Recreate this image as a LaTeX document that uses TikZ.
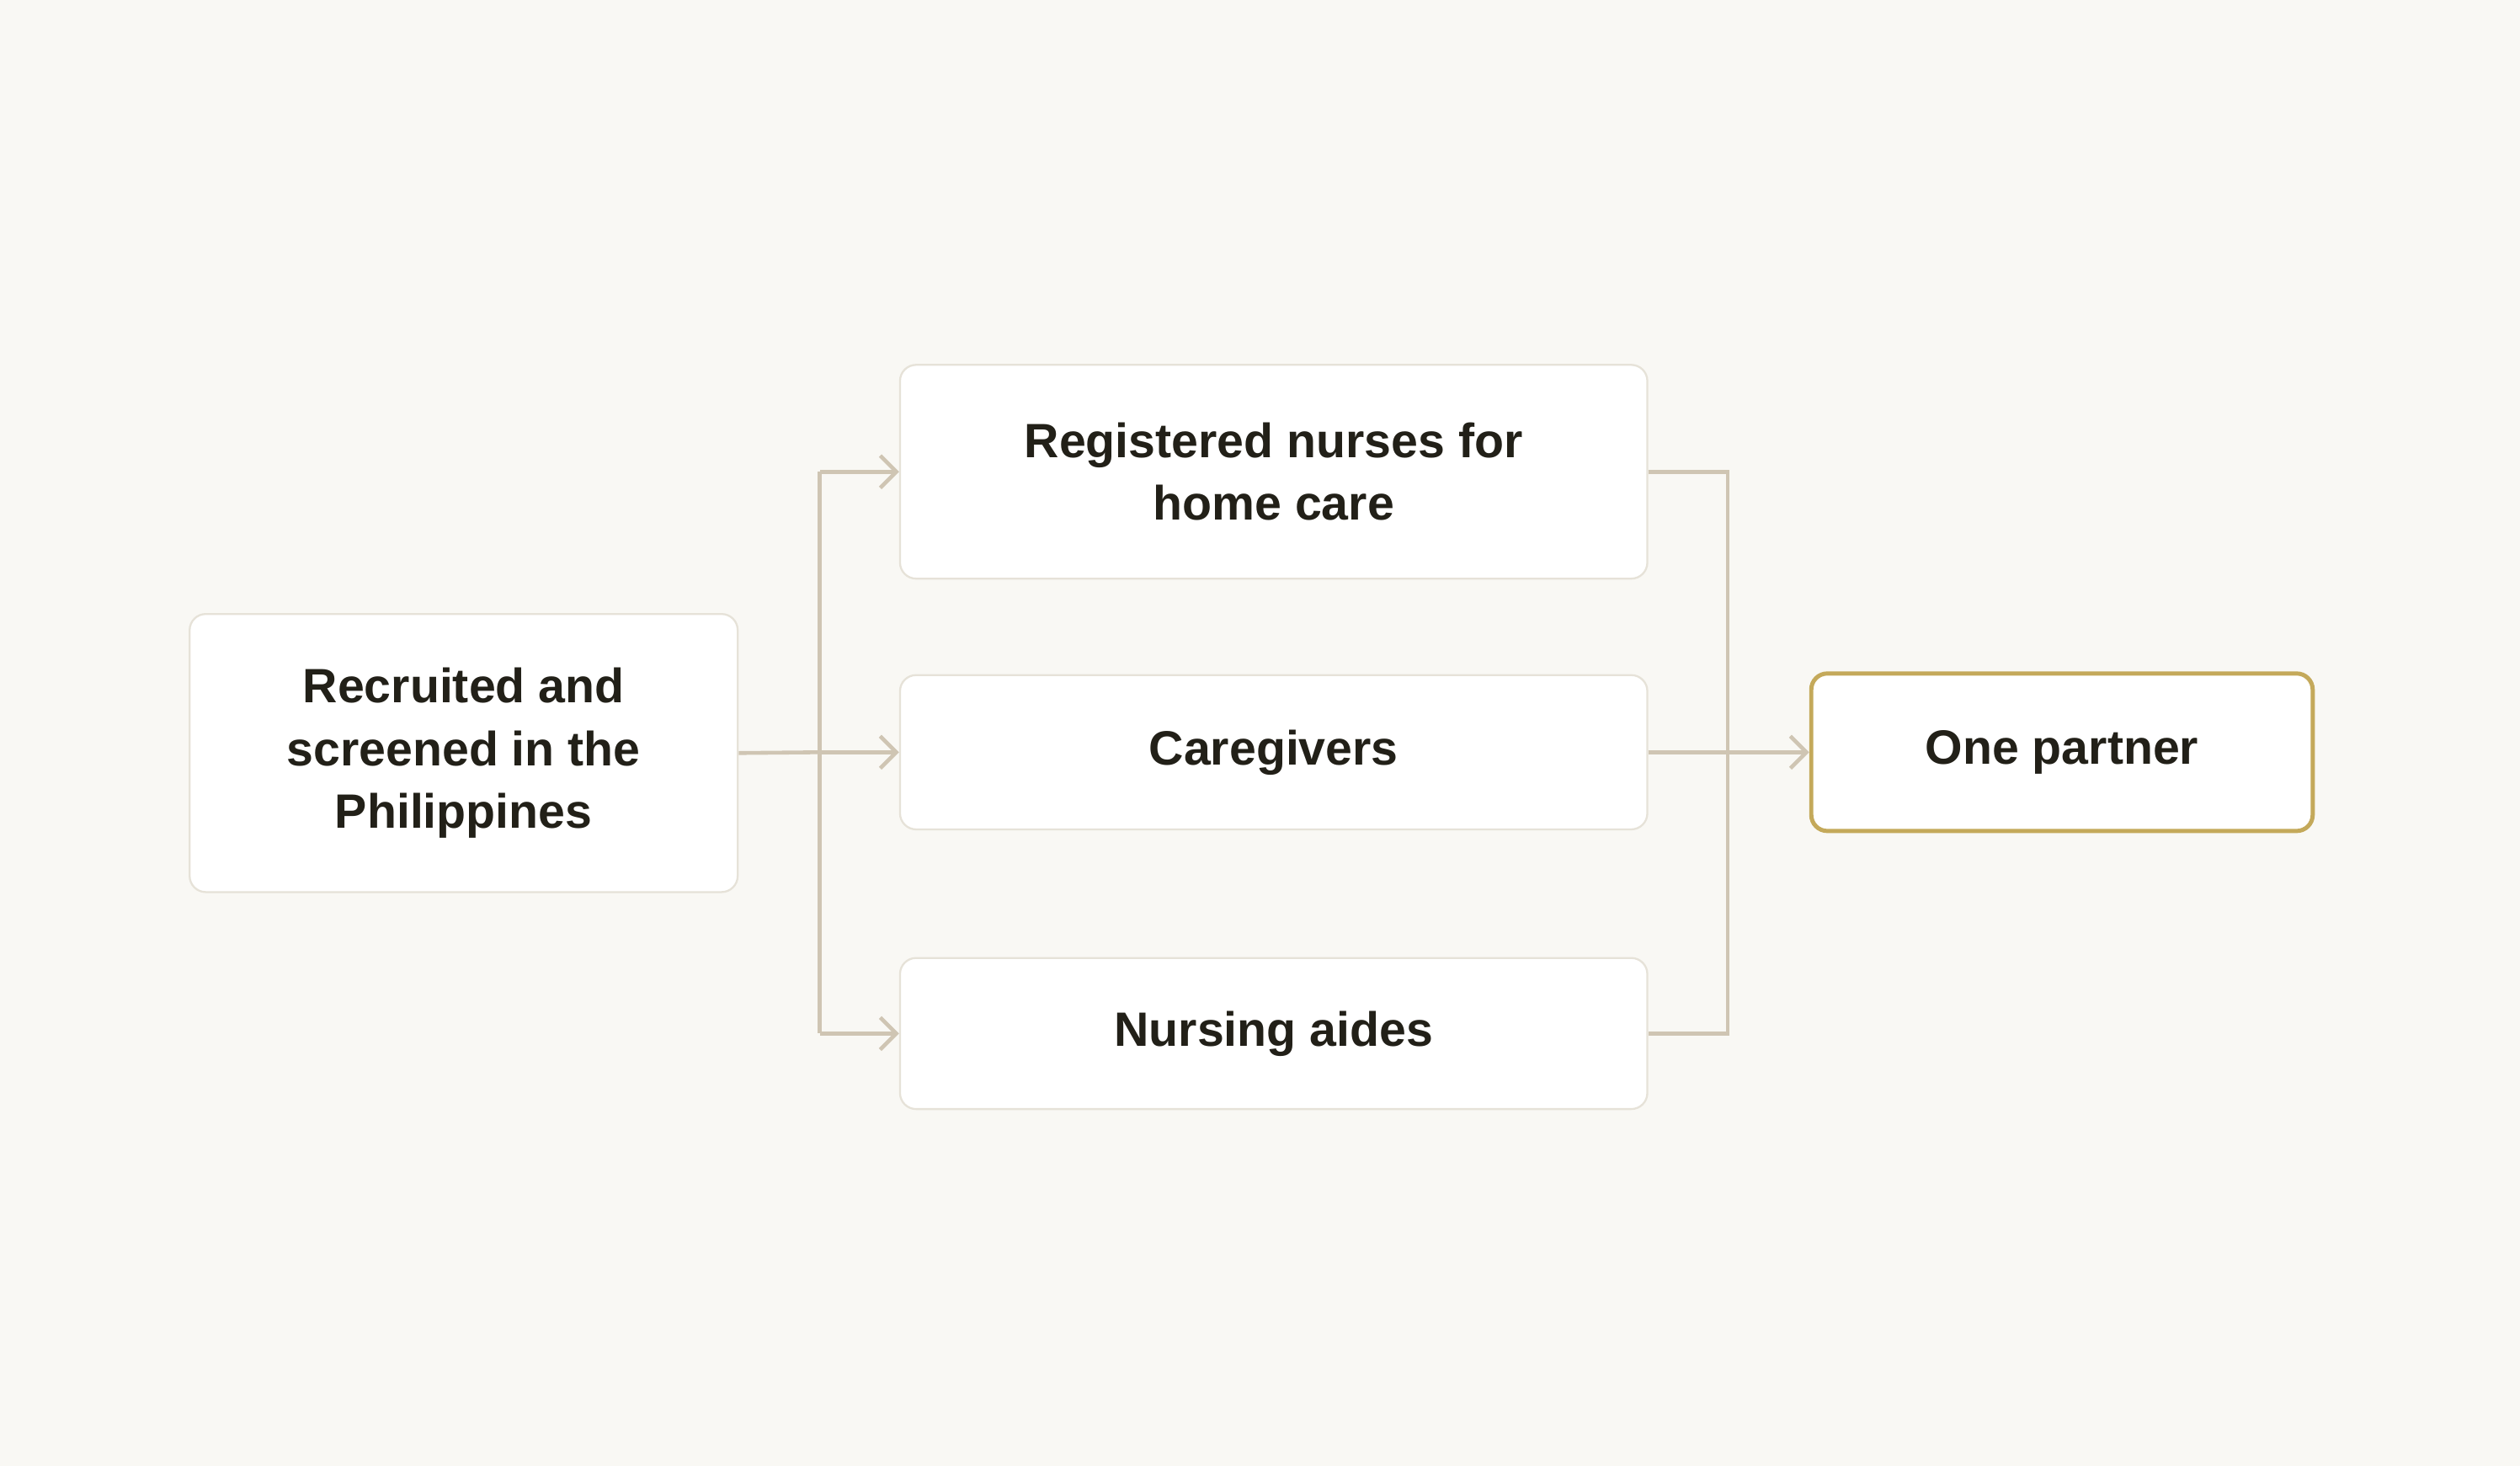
\documentclass[tikz,border=0pt]{standalone}
\usepackage{fontspec}
\setmainfont{Liberation Sans}
\usetikzlibrary{arrows.meta}
\definecolor{bg}{HTML}{F9F8F4}
\definecolor{bd}{HTML}{E6E2D8}
\definecolor{ln}{HTML}{CFC5B3}
\definecolor{gold}{HTML}{C4A95A}
\definecolor{tx}{HTML}{222018}
\begin{document}
\begin{tikzpicture}[x=0.5pt,y=-0.5pt,
  box/.style={draw=bd,line width=0.6pt,fill=white,rounded corners=5pt,inner sep=0pt,
    font=\fontsize{15}{19.5}\selectfont\bfseries,text=tx,align=center},
  conn/.style={draw=ln,line width=1.2pt},
  arr/.style={conn,-{Straight Barb[length=5pt,width=10pt,line width=1.2pt]}}]
\fill[bg] (0,0) rectangle (1568,912);
\useasboundingbox (0,0) rectangle (1568,912);
\node[box,minimum width=170.5pt,minimum height=86.5pt] (src) at (288.5,468.5) {Recruited and\\screened in the\\Philippines};
\node[box,minimum width=232.5pt,minimum height=66.5pt] (rn) at (792.5,293.5) {Registered nurses for\\home care};
\node[box,minimum width=232.5pt,minimum height=48pt] (cg) at (792.5,468) {Caregivers};
\node[box,minimum width=232.5pt,minimum height=47pt] (na) at (792.5,643) {Nursing aides};
\node[box,draw=gold,line width=1.3pt,minimum width=156pt,minimum height=49pt] (op) at (1283,468) {One partner};
\coordinate (tl) at (510,468);
\coordinate (tr) at (1075,468);
\draw[conn] (src.east) -- (tl);
\draw[conn] (tl |- rn.west) -- (tl |- na.west);
\draw[arr] (tl |- rn.west) -- (rn.west);
\draw[arr] (tl) -- (cg.west);
\draw[arr] (tl |- na.west) -- (na.west);
\draw[conn] (rn.east) -- (tr |- rn.east) -- (tr |- na.east) -- (na.east);
\draw[conn] (cg.east) -- (tr);
\draw[arr] (tr) -- (op.west);
\end{tikzpicture}
\end{document}
